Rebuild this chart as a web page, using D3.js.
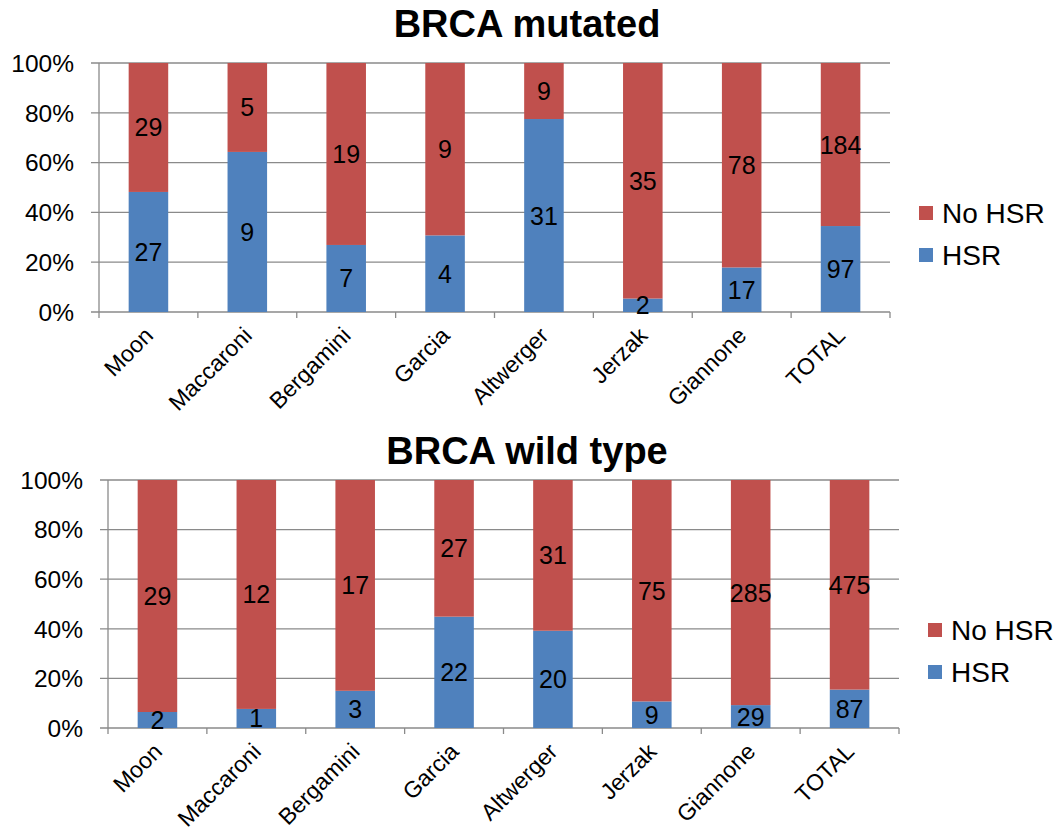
<!DOCTYPE html>
<html>
<head>
<meta charset="utf-8">
<script src="https://cdn.jsdelivr.net/npm/d3@7"></script>
<style>
  html, body { margin: 0; padding: 0; background: #fff; }
  svg { display: block; font-family: "Liberation Sans", Arial, sans-serif; }
</style>
</head>
<body>
<svg id="chart" width="1060" height="834"></svg>
<script>
const categories = ["Moon", "Maccaroni", "Bergamini", "Garcia", "Altwerger", "Jerzak", "Giannone", "TOTAL"];
const mutatedHSR   = [27, 9, 7, 4, 31, 2, 17, 97];
const mutatedNoHSR = [29, 5, 19, 9, 9, 35, 78, 184];
const wildHSR      = [2, 1, 3, 22, 20, 9, 29, 87];
const wildNoHSR    = [29, 12, 17, 27, 31, 75, 285, 475];
const yTicks = [0, 0.2, 0.4, 0.6, 0.8, 1.0];
const seriesNames = ["No HSR", "HSR"];
const colors = { "HSR": "#4F81BD", "No HSR": "#C0504D" };

const svg = d3.select("#chart");
const gridColor = "#8a8a8a";

function drawPanel(cfg) {
  const { title, hsr, nohsr, left, right, top, bottom, titleY, legendX, legendY } = cfg;
  const g = svg.append("g");

  const x = d3.scaleBand().domain(categories).range([left, right])
    .paddingInner(0.6).paddingOuter(0.3);
  const y = d3.scaleLinear().domain([0, 1]).range([bottom, top]);
  const step = x.step();
  const offset = step * 0.3;

  g.selectAll(".grid").data(yTicks).enter().append("line")
    .attr("x1", left - 8).attr("x2", right)
    .attr("y1", d => y(d)).attr("y2", d => y(d))
    .attr("stroke", gridColor).attr("stroke-width", 1.3);

  g.append("line").attr("x1", left).attr("x2", left)
    .attr("y1", y(1)).attr("y2", y(0))
    .attr("stroke", gridColor).attr("stroke-width", 1.3);

  const bounds = categories.map(c => x(c) - offset).concat([x(categories[categories.length - 1]) - offset + step]);
  g.selectAll(".xt").data(bounds).enter().append("line")
    .attr("x1", d => d).attr("x2", d => d)
    .attr("y1", y(0)).attr("y2", y(0) + 6)
    .attr("stroke", gridColor).attr("stroke-width", 1.3);

  g.selectAll(".yl").data(yTicks).enter().append("text")
    .attr("x", left - 25).attr("y", d => y(d))
    .attr("dy", "0.36em").attr("text-anchor", "end")
    .attr("font-size", 24.5).attr("fill", "#000")
    .text(d => d3.format(".0%")(d));

  const rows = categories.map((c, i) => {
    const t = hsr[i] + nohsr[i];
    return { cat: c, HSR: hsr[i] / t, "No HSR": nohsr[i] / t, HSRn: hsr[i], NoHSRn: nohsr[i] };
  });
  const stack = d3.stack().keys(["HSR", "No HSR"]);
  const layers = stack(rows);

  layers.forEach(layer => {
    const key = layer.key;
    g.selectAll(".bar-" + key.replace(" ", "")).data(layer).enter().append("rect")
      .attr("x", d => x(d.data.cat))
      .attr("width", x.bandwidth())
      .attr("y", d => y(d[1]))
      .attr("height", d => y(d[0]) - y(d[1]))
      .attr("fill", colors[key]);
  });
  layers.forEach(layer => {
    const key = layer.key;
    g.selectAll(".lab-" + key.replace(" ", "")).data(layer).enter().append("text")
      .attr("x", d => x(d.data.cat) + x.bandwidth() / 2)
      .attr("y", d => y((d[0] + d[1]) / 2))
      .attr("dy", "0.36em").attr("text-anchor", "middle")
      .attr("font-size", 25).attr("fill", "#000")
      .text(d => key === "HSR" ? d.data.HSRn : d.data.NoHSRn);
  });

  g.selectAll(".xl").data(categories).enter().append("text")
    .attr("transform", c => `translate(${x(c) + x.bandwidth() / 2 + 6},${y(0) + 25}) rotate(-45)`)
    .attr("text-anchor", "end")
    .attr("font-size", 23).attr("fill", "#000")
    .text(c => c);

  g.append("text").attr("x", 527).attr("y", titleY)
    .attr("text-anchor", "middle").attr("font-size", 38).attr("font-weight", "bold")
    .attr("fill", "#000").text(title);

  const lg = g.append("g").attr("transform", `translate(${legendX},${legendY})`);
  seriesNames.forEach((s, i) => {
    lg.append("rect").attr("x", 0).attr("y", i * 42).attr("width", 14).attr("height", 14)
      .attr("fill", colors[s]);
    lg.append("text").attr("x", 23).attr("y", i * 42 + 7).attr("dy", "0.36em")
      .attr("font-size", 28).attr("fill", "#000").text(s);
  });
}

drawPanel({ title: "BRCA mutated", hsr: mutatedHSR, nohsr: mutatedNoHSR,
  left: 99, right: 890, top: 63, bottom: 312, titleY: 37, legendX: 919, legendY: 206 });
drawPanel({ title: "BRCA wild type", hsr: wildHSR, nohsr: wildNoHSR,
  left: 108, right: 899, top: 480, bottom: 728, titleY: 464, legendX: 928, legendY: 623 });
</script>
</body>
</html>
